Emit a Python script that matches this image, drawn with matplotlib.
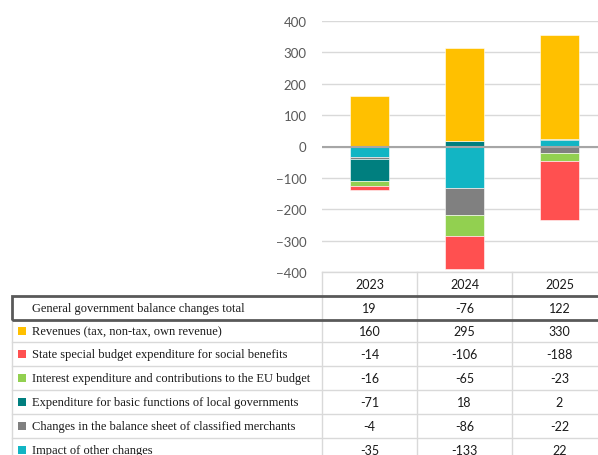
import numpy as np
import matplotlib
matplotlib.use("Agg")
from matplotlib import pyplot as plt
from matplotlib.transforms import blended_transform_factory
from matplotlib.lines import Line2D
from matplotlib.patches import Rectangle

years = ["2023", "2024", "2025"]
total = [19, -76, 122]

# components in stacking order (first = nearest to zero)
comp_names = ["Impact of other changes",
              "Changes in the balance sheet of classified merchants",
              "Expenditure for basic functions of local governments",
              "Interest expenditure and contributions to the EU budget",
              "State special budget expenditure for social benefits",
              "Revenues (tax, non-tax, own revenue)"]
other = [-35, -133, 22]
merchants = [-4, -86, -22]
local_gov = [-71, 18, 2]
interest = [-16, -65, -23]
social = [-14, -106, -188]
revenues = [160, 295, 330]
comp_vals = [other, merchants, local_gov, interest, social, revenues]
comp_colors = ["#12B5C4", "#808080", "#007F7F", "#92D050", "#FF5050", "#FFC000"]

# order of rows in the table under the chart
table_order = [5, 4, 3, 2, 1, 0]

W, H = 598, 456


def fx(x):
    return x / W


def fy(y):
    return 1 - y / H


fig = plt.figure(figsize=(W / 100, H / 100), dpi=100)
ax = fig.add_axes([fx(322), fy(273), 285 / W, (273 - 22) / H])

x = np.arange(len(years))
pos_base = np.zeros(len(years))
neg_base = np.zeros(len(years))
for vals, col in zip(comp_vals, comp_colors):
    v = np.array(vals, dtype=float)
    base = np.where(v >= 0, pos_base, neg_base)
    ax.bar(x, v, bottom=base, width=0.41, color=col, edgecolor="#ffffff",
           linewidth=0.4, zorder=3)
    pos_base += np.where(v >= 0, v, 0)
    neg_base += np.where(v < 0, v, 0)

ax.set_xlim(-0.5, 2.5)
ax.set_ylim(-400, 400)
ax.set_yticks(range(-400, 401, 100))
ax.yaxis.grid(True, color="#d9d9d9", linewidth=1.0, zorder=0)
ax.axhline(0, color="#a6a6a6", linewidth=1.5, zorder=4)
ax.set_xticks([])
ax.tick_params(axis="y", length=0, pad=11, labelsize=9.5, labelcolor="#595959")
for lab in ax.get_yticklabels():
    lab.set_fontfamily("Lato")
for s in ax.spines.values():
    s.set_visible(False)

# ---- table below the chart ----
tr = blended_transform_factory(ax.transData, fig.transFigure)
grid_c = "#d9d9d9"
row_top = [273, 297, 321, 343, 367, 391, 415, 439, 463]

# vertical cell borders
for xb in [322, 417, 512]:
    fig.add_artist(Line2D([fx(xb), fx(xb)], [fy(273), fy(463)], color=grid_c, lw=1))
fig.add_artist(Line2D([fx(12), fx(12)], [fy(321), fy(463)], color=grid_c, lw=1))
# horizontal borders
fig.add_artist(Line2D([fx(322), 1], [fy(273), fy(273)], color=grid_c, lw=1))
for yb in row_top[3:-1]:
    fig.add_artist(Line2D([fx(12), 1], [fy(yb), fy(yb)], color=grid_c, lw=1))

# emphasised total row
fig.add_artist(Rectangle((fx(12), fy(321)), fx(620) - fx(12), fy(297) - fy(321),
                         fill=False, edgecolor="#595959", lw=2, zorder=5))

num_font = dict(family="Lato", size=9, color="#1a1a1a", ha="center", va="center")
lab_font = dict(family="Liberation Serif", size=9, color="#1a1a1a", ha="left", va="center")

for i, yr in enumerate(years):
    fig.text(i, fy(285), yr, transform=tr, **num_font)
    fig.text(i, fy(309), str(total[i]), transform=tr, **num_font)

fig.text(fx(32), fy(309), "General government balance changes total", **lab_font)

for r, k in enumerate(table_order):
    yc = (row_top[r + 2] + row_top[r + 3]) / 2
    fig.add_artist(Rectangle((fx(18), fy(yc + 4)), 8 / W, 8 / H,
                             facecolor=comp_colors[k], edgecolor="none"))
    fig.text(fx(32), fy(yc), comp_names[k], **lab_font)
    for i in range(len(years)):
        fig.text(i, fy(yc), str(comp_vals[k][i]), transform=tr, **num_font)

fig.savefig("out.png", dpi=100)
